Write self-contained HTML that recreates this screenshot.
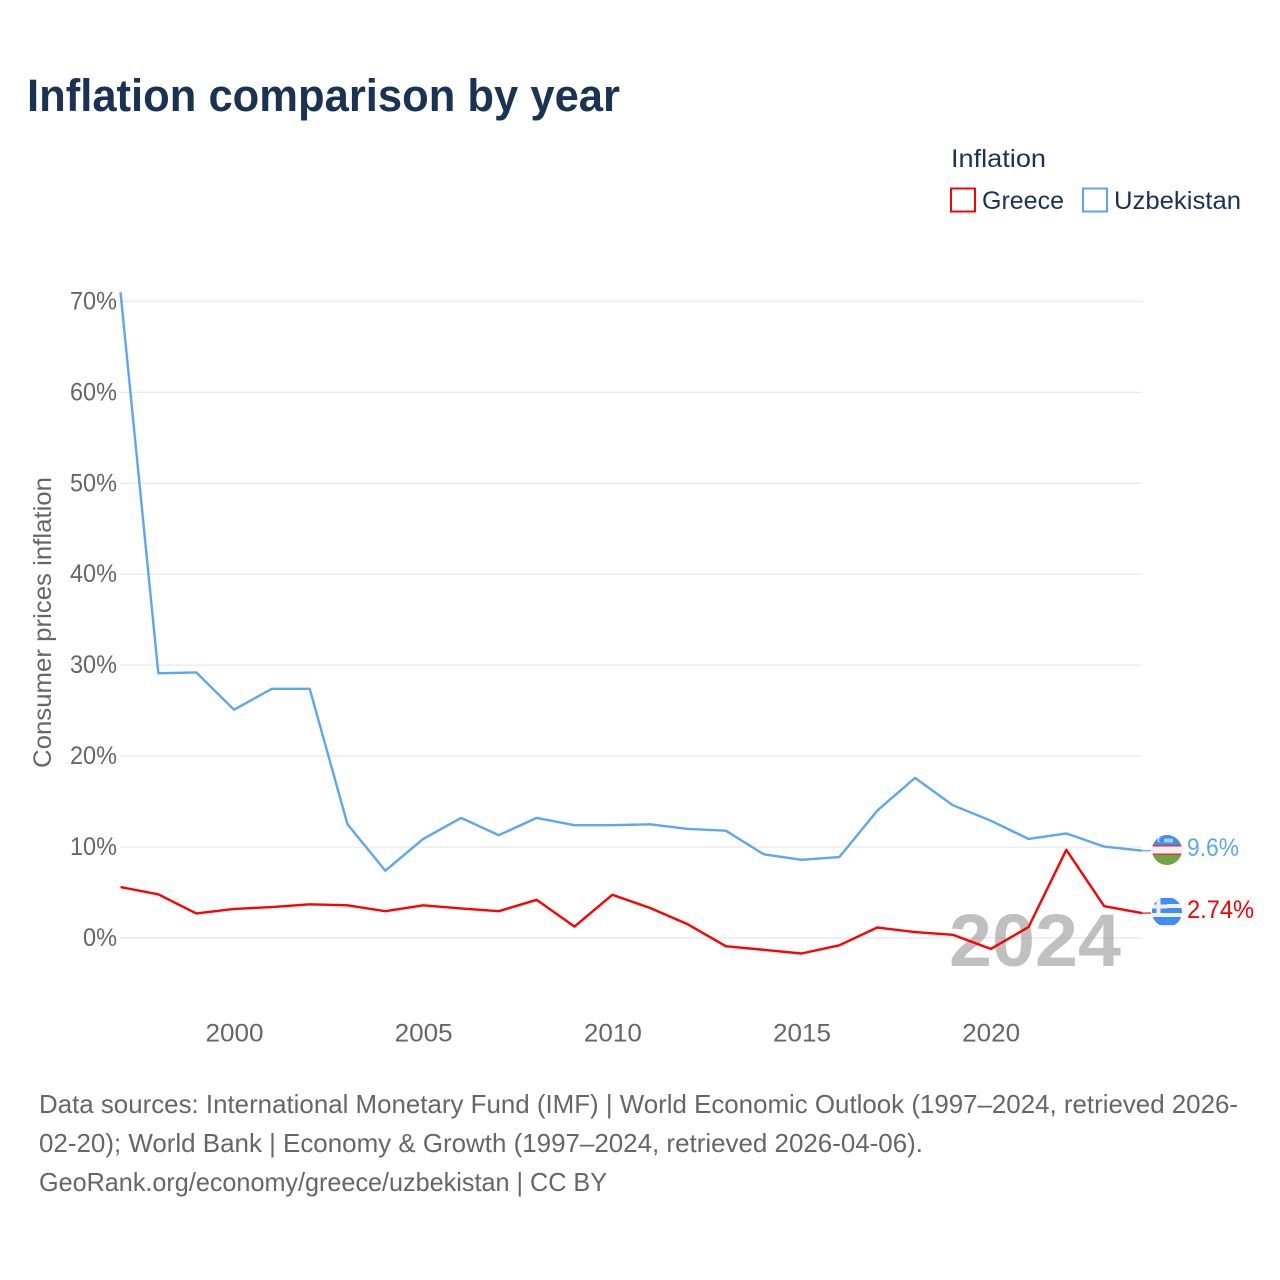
<!DOCTYPE html>
<html lang="en">
<head>
<meta charset="utf-8">
<title>Inflation comparison by year</title>
<style>
html,body{margin:0;padding:0;background:#fff;}
svg{display:block;font-family:"Liberation Sans",sans-serif;}
</style>
</head>
<body>
<svg id="chart" xmlns="http://www.w3.org/2000/svg" width="1280" height="1280" viewBox="0 0 1280 1280">
  <defs>
    <clipPath id="clip-uz"><circle cx="1167" cy="850" r="15"/></clipPath>
    <clipPath id="clip-gr"><circle cx="1167" cy="912" r="15"/></clipPath>
  </defs>
  <rect width="1280" height="1280" fill="#fff"/>
  <text x="27" y="111" font-size="45" font-weight="700" fill="#1a3355" textLength="593" lengthAdjust="spacingAndGlyphs">Inflation comparison by year</text>

  <g>
    <text x="951" y="167" font-size="25" fill="#1a3355" textLength="95" lengthAdjust="spacingAndGlyphs">Inflation</text>
    <g>
      <rect x="951" y="188.500" width="24" height="23" fill="#fff" stroke="#ff0000" stroke-width="2"/>
      <text x="982" y="209" font-size="25" fill="#1a3355" textLength="82" lengthAdjust="spacingAndGlyphs">Greece</text>
    </g>
    <g>
      <rect x="1083" y="188.500" width="24" height="23" fill="#fff" stroke="#5ba7f0" stroke-width="2"/>
      <text x="1114" y="209" font-size="25" fill="#1a3355" textLength="127" lengthAdjust="spacingAndGlyphs">Uzbekistan</text>
    </g>
  </g>

  <text transform="translate(51,768) rotate(-90)" font-size="25" fill="#666" textLength="291" lengthAdjust="spacingAndGlyphs">Consumer prices inflation</text>

  <g id="grid"></g>
  <g id="yticks"></g>
  <g id="xticks"></g>

  <text x="949" y="966" font-size="74" font-weight="700" fill="#9a9a9a" fill-opacity="0.62" textLength="172" lengthAdjust="spacingAndGlyphs">2024</text>

  <g id="series"></g>

  <g clip-path="url(#clip-uz)">
    <rect x="1152" y="835" width="30" height="11" fill="#3f8ef0"/>
    <rect x="1152" y="846" width="30" height="8" fill="#f0f0f0"/>
    <rect x="1152" y="845" width="30" height="1.500" fill="#e8333a"/>
    <rect x="1152" y="853.500" width="30" height="1.500" fill="#e8333a"/>
    <rect x="1152" y="855" width="30" height="10" fill="#6da544"/>
    <circle cx="1160" cy="840" r="2.500" fill="#f0f0f0"/>
    <circle cx="1161" cy="840" r="2.200" fill="#3f8ef0"/>
    <rect x="1164" y="838.500" width="9" height="4" fill="#a8cdf5"/>
  </g>
  <g clip-path="url(#clip-gr)">
    <rect x="1152" y="897" width="30" height="30" fill="#f0f0f0"/>
    <rect x="1152" y="898" width="30" height="6" fill="#3f8ef0"/>
    <rect x="1152" y="908" width="30" height="5" fill="#3f8ef0"/>
    <rect x="1152" y="917" width="30" height="8" fill="#3f8ef0"/>
    <rect x="1152" y="898" width="15" height="15" fill="#3f8ef0"/>
    <rect x="1156.500" y="898" width="4" height="15" fill="#f0f0f0"/>
    <rect x="1152" y="904.500" width="15" height="4" fill="#f0f0f0"/>
  </g>

  <text id="value-uz" x="1187" y="856" font-size="25" fill="#5ba7f0" textLength="52" lengthAdjust="spacingAndGlyphs">9.6%</text>
  <text id="value-gr" x="1187" y="918" font-size="25" fill="#ff0000" textLength="67" lengthAdjust="spacingAndGlyphs">2.74%</text>

  <g font-size="26" fill="#666">
    <text x="39" y="1113" textLength="1199" lengthAdjust="spacingAndGlyphs">Data sources: International Monetary Fund (IMF) | World Economic Outlook (1997–2024, retrieved 2026-</text>
    <text x="39" y="1152" textLength="884" lengthAdjust="spacingAndGlyphs">02-20); World Bank | Economy &amp; Growth (1997–2024, retrieved 2026-04-06).</text>
    <text x="39" y="1191" textLength="568" lengthAdjust="spacingAndGlyphs">GeoRank.org/economy/greece/uzbekistan | CC BY</text>
  </g>
</svg>
<script>
const years = [1997,1998,1999,2000,2001,2002,2003,2004,2005,2006,2007,2008,2009,2010,2011,2012,2013,2014,2015,2016,2017,2018,2019,2020,2021,2022,2023,2024];
const greece = [5.6,4.8,2.7,3.2,3.4,3.7,3.6,2.95,3.6,3.25,2.95,4.2,1.25,4.75,3.3,1.5,-0.9,-1.3,-1.7,-0.8,1.15,0.65,0.35,-1.2,1.2,9.7,3.5,2.74];
const uzbekistan = [71,29.1,29.2,25.1,27.4,27.4,12.5,7.4,10.9,13.2,11.3,13.2,12.4,12.4,12.5,12,11.8,9.2,8.6,8.9,14,17.6,14.6,12.9,10.9,11.5,10.05,9.6];
const yTickValues = [0,10,20,30,40,50,60,70];
const yTickLabels = ['0%','10%','20%','30%','40%','50%','60%','70%'];
const xTickValues = [2000,2005,2010,2015,2020];
const xTickLabels = ['2000','2005','2010','2015','2020'];

const NS = 'http://www.w3.org/2000/svg';
function xScale(v){ return 120.5 + (v - 1997) * (1142 - 120.5) / (2024 - 1997); }
function yScale(v){ return 938 - v * 9.095; }
function make(tag, attrs, parent){
  const el = document.createElementNS(NS, tag);
  for (const k in attrs) el.setAttribute(k, attrs[k]);
  parent.appendChild(el);
  return el;
}

const gridG = document.getElementById('grid');
const yG = document.getElementById('yticks');
const xG = document.getElementById('xticks');
const seriesG = document.getElementById('series');

yTickValues.forEach(function(v, i){
  const line = make('line', {x1:120, x2:1142, y1:yScale(v), y2:yScale(v), stroke:'#e8e8e8', 'stroke-width':1.2}, gridG);
  
  
  const t = make('text', {x:117, y:yScale(v) + 8, 'text-anchor':'end', 'font-size':25, fill:'#666', textLength: 8 + (yTickLabels[i].length - 1) * 13 + 13, lengthAdjust:'spacingAndGlyphs'}, yG);
  
  
  t.textContent = yTickLabels[i];
});

xTickValues.forEach(function(v, i){
  const t = make('text', {x:xScale(v) + 0.5, y:1041.500, 'text-anchor':'middle', 'font-size':25, fill:'#666', textLength:58, lengthAdjust:'spacingAndGlyphs'}, xG);
  
  
  t.textContent = xTickLabels[i];
});

function drawSeries(values, color, name){
  const pts = values.map(function(v, i){ return xScale(years[i]).toFixed(1) + ',' + yScale(v).toFixed(1); }).join(' ');
  const line = make('polyline', {points:pts, fill:'none', stroke:color, 'stroke-width':2.4, 'stroke-linejoin':'round'}, seriesG);
  
  
  const last = values[values.length - 1];
  const lead = make('line', {x1:xScale(2024), x2:1151, y1:yScale(last), y2:yScale(last), stroke:color, 'stroke-width':1.2}, seriesG);
  
  
}
drawSeries(uzbekistan, '#5ba7f0', 'line-uzbekistan');
drawSeries(greece, '#ff0000', 'line-greece');
</script>
</body>
</html>
